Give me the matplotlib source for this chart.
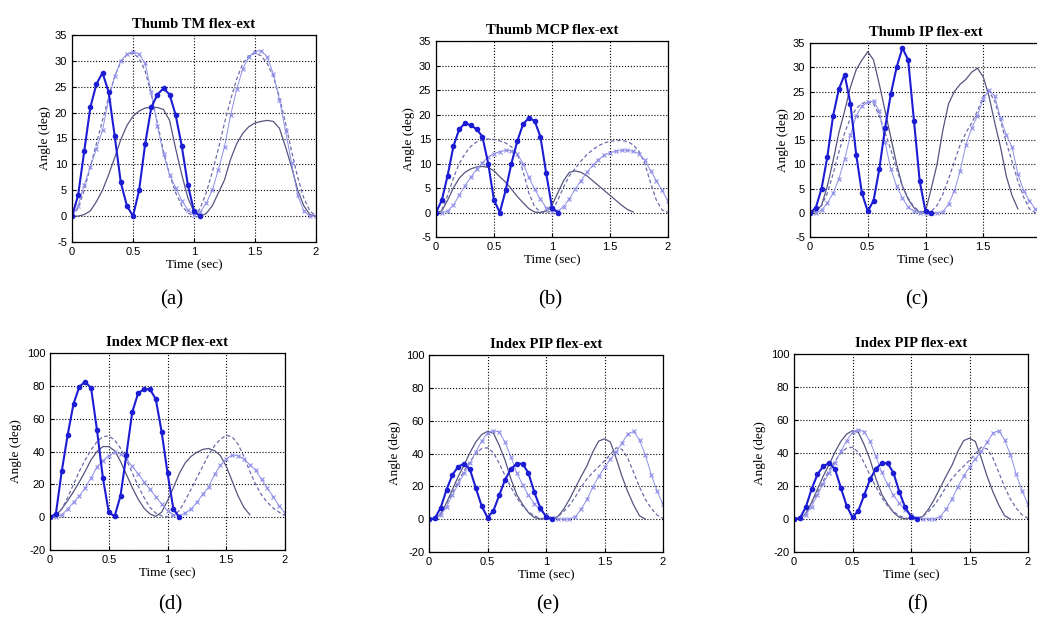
import matplotlib
matplotlib.use("Agg")
import matplotlib.pyplot as plt
import numpy as np

plt.rcParams["axes.unicode_minus"] = False

# time base (sec), sampled every 0.05 s
t = np.linspace(0, 2, 41)

# Thumb TM
tm_dot = [0, 4, 12.5, 21, 25.5, 27.7, 24, 15.5, 6.5, 2, 0, 5, 14, 21, 23.5, 24.7, 23.5, 19.5, 13.5, 6, 1, 0]
tm_x = [0, 2, 6, 9.5, 13, 16.6, 22.5, 27, 30, 31.3, 31.8, 31.3, 29.5, 24, 17.5, 12, 8, 5.5, 3, 1.2, 0.2,
        0.8, 2.5, 5, 9, 13.4, 19.5, 24.5, 28.5, 30.8, 31.8, 32, 30.8, 27.5, 22.5, 16.5, 10.2, 4, 1, 0, 0]
tm_dash = [0, 1.5, 5, 9.5, 14, 18.5, 23, 27, 29.8, 31.2, 31.5, 30.5, 28, 23.5, 18, 12.5, 8, 4.5, 2, 0.6, 0,
           1.5, 4.5, 8.5, 13, 18, 22.5, 26.5, 29.5, 31, 31.5, 31, 29.5, 27, 23, 18, 12.5, 7.5, 3.5, 1, 0]
tm_solid = [0, 0, 0.3, 1, 2.8, 5, 8, 11.3, 14.8, 17.5, 19.3, 20.3, 20.9, 21, 21, 20.6, 18.5, 13, 8, 3.5, 0.8,
            0, 0.5, 2, 4.5, 7, 11, 14, 16, 17.3, 18, 18.3, 18.5, 18.3, 17, 13.4, 9.5, 5, 2, 0.3, 0]

# Thumb MCP
mcp_dot = [0, 2.5, 7.5, 13.5, 17, 18.2, 17.8, 17, 15.5, 10, 2.5, 0, 4.5, 10, 14.5, 18, 19.3, 18.7, 15.5, 8, 1, 0]
mcp_x = [0, 0, 0.3, 1.5, 3.5, 5.5, 7.2, 8.8, 10.2, 11.3, 12, 12.4, 12.7, 12.6, 12, 10, 7.2, 4.8, 2.7, 1, 0.2,
         0.3, 1.2, 2.8, 4.8, 6.5, 8.2, 9.6, 10.8, 11.7, 12.2, 12.5, 12.7, 12.7, 12.5, 12, 10.7, 8.5, 6.5, 4.5, 2.3]
mcp_dash = [0, 0.5, 3.5, 7, 10, 12, 13.5, 14.4, 14.8, 15, 14.9, 14.6, 14.2, 13.4, 12, 8.5, 4, 1.2, 0.1, 0, 0.3,
            2.5, 5.2, 7.5, 9, 10.5, 11.8, 12.8, 13.6, 14.2, 14.5, 14.7, 14.7, 14.5, 13.8, 12.5, 10, 6, 2.5, 0.5, 0]
mcp_solid = [0, 0.3, 2.5, 5, 7, 8.2, 8.9, 9.3, 9.4, 9.2, 8.5, 7.3, 6.2, 4.8, 3.3, 2, 0.8, 0.1, 0, 0.3, 1.5,
             4, 6.5, 8.2, 8.5, 8.2, 7.5, 6.5, 5.5, 4.5, 3.5, 2.5, 1.5, 0.6, 0.1]

# Thumb IP
ip_dot = [0, 1, 5, 11.5, 20, 25.5, 28.5, 22.5, 12, 4, 0.3, 2.5, 9, 17.5, 24.5, 30, 34, 31.5, 19, 6.5, 0.3, 0]
ip_x = [0, 0, 0.5, 2, 4, 7, 11, 16, 20, 22, 22.8, 23, 21, 14.5, 9, 5.5, 3, 1.2, 0.3, 0, 0,
        0, 0, 0.2, 1.8, 4.5, 8.6, 14, 17.5, 20, 23.5, 25.3, 24, 19.5, 16, 13.5, 8, 4.5, 2.5, 0.8, 0]
ip_dash = [0, 0.3, 1.5, 4, 8, 12.5, 16.5, 19.5, 21.5, 22.5, 23, 22.5, 20, 16.5, 13, 9, 5.5, 3, 1.2, 0.3, 0,
           0.3, 1.5, 3.8, 7, 10.5, 14, 16.5, 18.5, 21, 24, 25, 23, 19, 14.5, 10.5, 6.5, 3.2, 0.8, 0, 0]
ip_solid = [0, 0.3, 1.5, 5.5, 10.7, 16.5, 21, 25.9, 29.5, 31.5, 33.2, 31.5, 26.5, 21, 15.5, 10, 5.5, 2.8, 1, 0.1, 0.3,
            5, 10, 17, 22.5, 25, 26.5, 27.5, 29, 29.8, 28, 24, 18.5, 13.5, 7.5, 3.5, 0.8]

# Index MCP
imcp_dot = [0, 2, 28, 50, 69, 79.5, 82.5, 78.5, 53, 24, 3, 0.5, 13, 38, 64, 75.5, 78, 78, 72, 52, 27, 5, 0]
imcp_x = [0, 0, 1.5, 5, 9, 13, 18, 24, 30.6, 34.5, 37.5, 39.5, 38.5, 35.5, 31, 26.5, 21.5, 17, 12.5, 8, 4,
          1.5, 1, 2.5, 5, 9, 14, 18.4, 26, 31.5, 35.5, 37.8, 37.5, 35.5, 32, 28.6, 23, 17.5, 12.5, 7, 2.5]
imcp_dash = [0, 1, 5, 12, 20, 28, 35, 41, 46, 49, 49.5, 47, 42, 35, 27, 19, 12, 6, 2.5, 0.8, 0.2,
             1, 4, 10, 17, 24, 31, 38, 43.5, 47.5, 49.8, 49, 44.5, 37, 28, 20, 13.5, 9, 5.5, 3, 1]
imcp_solid = [0, 1, 5, 10, 15.5, 21.5, 28, 35, 40, 43, 43, 40.5, 34, 26, 18, 11, 5.5, 2, 0.5, 3, 10,
              18, 26.5, 33, 37, 39.5, 41.3, 41.8, 40.5, 37.5, 31, 22, 13, 6, 1.5]

# Index PIP
pip_dot = [0, 0.5, 7, 18, 27, 32, 33.8, 30.3, 19, 8, 1, 5, 14.5, 24, 30.5, 33.8, 33.8, 28, 16.5, 7, 1.5, 0]
pip_x = [0, 0.5, 2.5, 7.5, 14.5, 21.5, 28, 34, 41, 47.5, 52.5, 54, 53, 47, 38, 28.3, 21, 14.5, 9.5, 5.5, 2.5,
         0.8, 0.2, 0, 0, 1.5, 6, 12, 19.5, 26, 31.5, 36.5, 41, 46.5, 52, 53.5, 48, 39, 27, 17, 9]
pip_dash = [0, 0.5, 3.5, 9.5, 16, 23, 29.5, 35, 40, 43, 43.5, 40.5, 34, 26.5, 19.5, 13, 8, 4.5, 2, 0.6, 0.1,
            0.3, 1.5, 4.5, 8.5, 13.5, 19.5, 24.5, 28.5, 32, 35.5, 39.5, 43.5, 42.5, 37, 28.3, 19.5, 12, 6.5, 2.5, 0.4]
pip_solid = [0, 0.5, 3, 10, 18, 26, 33, 40.5, 47, 51.5, 53.5, 52.5, 45, 36, 24.5, 15, 9, 4, 1, 0.1, 0.5,
             0.3, 1.5, 6, 12, 19, 26, 32.5, 41, 47.5, 49, 47, 37, 26, 16.5, 8.5, 2, 0]

titles = ["Thumb TM flex-ext", "Thumb MCP flex-ext", "Thumb IP flex-ext",
          "Index MCP flex-ext", "Index PIP flex-ext", "Index PIP flex-ext"]
letters = ["(a)", "(b)", "(c)", "(d)", "(e)", "(f)"]
series = [(tm_dot, tm_x, tm_dash, tm_solid),
          (mcp_dot, mcp_x, mcp_dash, mcp_solid),
          (ip_dot, ip_x, ip_dash, ip_solid),
          (imcp_dot, imcp_x, imcp_dash, imcp_solid),
          (pip_dot, pip_x, pip_dash, pip_solid),
          (pip_dot, pip_x, pip_dash, pip_solid)]

# axes boxes in pixels: left, top, right, bottom
W, H = 1037, 622
boxes = [(72, 35, 316, 242), (436, 41, 668, 237), (810, 43, 1041, 237),
         (50, 353, 285, 550), (429, 355, 663, 552), (794, 354, 1028, 552)]
letter_pos = [(172, 300), (550, 300), (917, 300), (170, 605), (548, 605), (917, 605)]

C_DOT = "#1c1cd2"
C_X = "#8f8fe8"
C_SOLID = "#55557e"
C_DASH = "#6c6caa"

fig = plt.figure(figsize=(W / 100, H / 100), dpi=100)

for i in range(6):
    l, tp, r, b = boxes[i]
    ax = fig.add_axes([l / W, 1 - b / H, (r - l) / W, (b - tp) / H])
    dot, xs, dash, solid = series[i]
    ax.plot(t[:len(solid)], solid, color=C_SOLID, lw=0.9)
    ax.plot(t[:len(dash)], dash, color=C_DASH, lw=0.9, ls=(0, (3, 2)))
    ax.plot(t[:len(xs)], xs, color=C_X, lw=0.7, marker="x", ms=3.5, mew=0.8)
    ax.plot(t[:len(dot)], dot, color=C_DOT, lw=1.5, marker="o", ms=3)

    ax.set_xlim(0, 2)
    ax.set_xticks([0, 0.5, 1, 1.5, 2])
    # the right-hand panel runs off the page, so its last label is not shown
    ax.set_xticklabels(["0", "0.5", "1", "1.5", "" if i == 2 else "2"])
    if i < 3:
        ax.set_ylim(-5, 35)
        ax.set_yticks(range(-5, 36, 5))
    else:
        ax.set_ylim(-20, 100)
        ax.set_yticks(range(-20, 101, 20))
    ax.grid(True, ls=":", color="black", lw=0.8)
    ax.tick_params(direction="in", length=3, labelsize=8)
    for lab in ax.get_xticklabels() + ax.get_yticklabels():
        lab.set_family("Liberation Sans")
    for sp in ax.spines.values():
        sp.set_linewidth(0.9)

    ax.set_title(titles[i], fontsize=10.5, family="Liberation Serif", fontweight="bold", pad=5)
    ax.set_xlabel("Time (sec)", fontsize=9.5, family="Liberation Serif", labelpad=2)
    ax.set_ylabel("Angle (deg)", fontsize=9.5, family="Liberation Serif", labelpad=3)

    lx, ly = letter_pos[i]
    fig.text(lx / W, 1 - ly / H, letters[i], ha="center", va="center",
             fontsize=15, family="Liberation Serif")

fig.savefig("out.png", dpi=100)
